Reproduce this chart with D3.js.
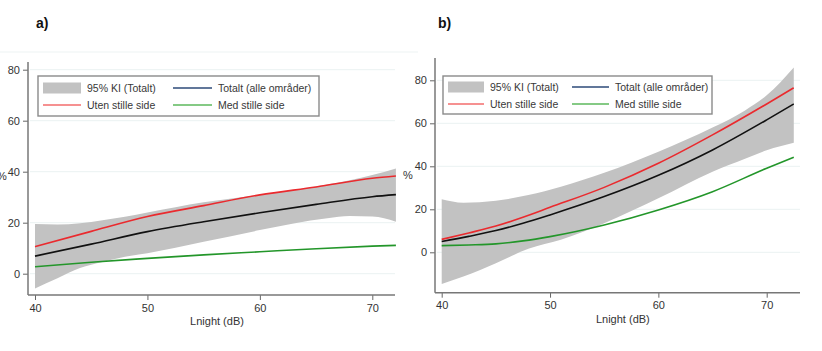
<!DOCTYPE html>
<html>
<head>
<meta charset="utf-8">
<script src="https://cdn.jsdelivr.net/npm/d3@7"></script>
<style>
  body { margin: 0; background: #fff; }
  svg { display: block; font-family: "Liberation Sans", Arial, sans-serif; }
</style>
</head>
<body>
<div id="chart"></div>
<script>
// ---- data ----
const xTicks = [40, 50, 60, 70];
const yTicks = [0, 20, 40, 60, 80];
const legendLabels = ["95% KI (Totalt)", "Totalt (alle områder)", "Uten stille side", "Med stille side"];

// panel a)
const aX      = [40, 45, 50, 55, 60, 65, 70, 72.1];
const aUten   = [10.6, 16.6, 22.4, 26.7, 30.9, 34.0, 37.4, 38.3];
const aTotalt = [6.9, 11.6, 16.5, 20.4, 23.9, 27.2, 30.2, 31.0];
const aMed    = [2.7, 4.5, 6.0, 7.4, 8.6, 9.8, 10.8, 11.1];
const aBandX  = [40, 42, 44, 46, 48, 50, 55, 60, 63, 66, 68, 70, 72.1];
const aUpper  = [19.5, 19.3, 19.8, 21.0, 22.3, 24.0, 28.0, 31.0, 32.8, 35.0, 36.6, 38.7, 41.3];
const aLower  = [-5.8, -1.8, 2.2, 4.6, 6.6, 8.0, 12.5, 17.1, 19.7, 21.7, 22.6, 22.4, 20.4];

// panel b)
const bX      = [40, 42.5, 45, 47.5, 50, 55, 60, 65, 70, 72.5];
const bUten   = [6.0, 9.0, 12.2, 16.3, 20.9, 30.2, 41.4, 54.6, 69.0, 76.5];
const bTotalt = [5.0, 7.4, 10.1, 13.5, 17.4, 25.9, 35.8, 47.6, 61.6, 69.0];
const bMed    = [3.1, 3.4, 3.9, 5.3, 7.3, 12.7, 19.7, 28.2, 39.1, 44.2];
const bBandX  = [40, 42, 45, 48, 51, 55, 60, 65, 68, 70, 72.5];
const bUpper  = [24.7, 23.1, 24.0, 26.6, 30.5, 37.0, 46.8, 58.0, 66.0, 73.0, 86.0];
const bLower  = [-14.7, -11.3, -5.1, 1.6, 5.8, 13.5, 25.1, 37.5, 43.5, 47.5, 51.0];

const svg = d3.select("#chart").append("svg")
    .attr("width", 822)
    .attr("height", 351);

// faint frame line of panel a
svg.append("line")
    .attr("x1", 0).attr("x2", 418).attr("y1", 52).attr("y2", 52)
    .attr("stroke", "#edf3f3").attr("stroke-width", 1);

function drawPanel(cfg) {
    const x = d3.scaleLinear().domain([40, 70]).range(cfg.xRange);
    const y = d3.scaleLinear().domain([0, 60]).range(cfg.yRange);
    const g = svg.append("g");

    // gridlines
    g.selectAll(".grid")
        .data(yTicks)
        .join("line")
        .attr("class", "grid")
        .attr("x1", cfg.box[0] + 2).attr("x2", cfg.box[1])
        .attr("y1", d => y(d)).attr("y2", d => y(d))
        .attr("stroke", "#eaf2f2").attr("stroke-width", 1);

    // confidence band
    const band = cfg.bandX.map((v, i) => ({x: v, lo: cfg.lower[i], hi: cfg.upper[i]}));
    g.append("path")
        .datum(band)
        .attr("d", d3.area()
            .x(d => x(d.x)).y0(d => y(d.lo)).y1(d => y(d.hi))
            .curve(d3.curveMonotoneX))
        .attr("fill", "#c2c2c2");

    // lines
    const line = d3.line().x(d => x(d.x)).y(d => y(d.y)).curve(d3.curveMonotoneX);
    [[cfg.med, "#23962a"], [cfg.totalt, "#111"], [cfg.uten, "#ea2a2e"]].forEach(([vals, col]) => {
        g.append("path")
            .datum(cfg.xs.map((v, i) => ({x: v, y: vals[i]})))
            .attr("d", line)
            .attr("fill", "none")
            .attr("stroke", col)
            .attr("stroke-width", 1.6);
    });

    // axes
    const yAxis = d3.axisLeft(y).tickValues(yTicks).tickSize(5).tickPadding(3).tickFormat(d3.format("d"));
    const xAxis = d3.axisBottom(x).tickValues(xTicks).tickSize(5).tickPadding(4).tickFormat(d3.format("d"));

    const yG = g.append("g").attr("transform", `translate(${cfg.box[0]},0)`).call(yAxis);
    yG.select(".domain").remove();
    const xG = g.append("g").attr("transform", `translate(0,${cfg.box[3]})`).call(xAxis);
    xG.select(".domain").remove();

    [yG, xG].forEach(a => {
        a.selectAll(".tick line").attr("stroke", "#666").attr("stroke-width", 1);
        a.selectAll(".tick text").attr("fill", "#333").style("font-size", "11px");
    });

    // axis lines
    g.append("line")
        .attr("x1", cfg.box[0]).attr("x2", cfg.box[0])
        .attr("y1", cfg.box[2]).attr("y2", cfg.box[3])
        .attr("stroke", "#777").attr("stroke-width", 1.5);
    g.append("line")
        .attr("x1", cfg.box[0]).attr("x2", cfg.box[1])
        .attr("y1", cfg.box[3]).attr("y2", cfg.box[3])
        .attr("stroke", "#777").attr("stroke-width", 1.5);

    // axis titles
    g.append("text")
        .attr("x", (cfg.xRange[0] + cfg.box[1]) / 2 + 2)
        .attr("y", cfg.box[3] + 30)
        .attr("text-anchor", "middle")
        .attr("fill", "#333")
        .style("font-size", "11px")
        .text("Lnight (dB)");
    g.append("text")
        .attr("x", cfg.pctX)
        .attr("y", cfg.pctY)
        .attr("fill", "#333")
        .style("font-size", "11px")
        .text("%");

    // panel title
    svg.append("text")
        .attr("x", cfg.titleX).attr("y", 28)
        .attr("fill", "#111")
        .style("font-size", "14px")
        .style("font-weight", "bold")
        .text(cfg.title);

    // legend
    const L = cfg.legend;
    const lg = svg.append("g");
    lg.append("rect")
        .attr("x", L.x0).attr("y", L.y0)
        .attr("width", L.x1 - L.x0).attr("height", L.y1 - L.y0)
        .attr("fill", "#fff").attr("stroke", "#8a8a8a").attr("stroke-width", 1.4);
    const items = [
        {label: legendLabels[0], type: "rect", col: "#c2c2c2", cx: L.c1, row: 0},
        {label: legendLabels[1], type: "line", col: "#2d4a78", cx: L.c2, row: 0},
        {label: legendLabels[2], type: "line", col: "#f36c6c", cx: L.c1, row: 1},
        {label: legendLabels[3], type: "line", col: "#5db85d", cx: L.c2, row: 1}
    ];
    items.forEach(it => {
        const yy = L.rows[it.row];
        if (it.type === "rect") {
            lg.append("rect").attr("x", it.cx[0]).attr("y", yy - 5.5)
                .attr("width", it.cx[1] - it.cx[0]).attr("height", 11).attr("fill", it.col);
        } else {
            lg.append("line").attr("x1", it.cx[0]).attr("x2", it.cx[1])
                .attr("y1", yy).attr("y2", yy)
                .attr("stroke", it.col).attr("stroke-width", 1.6);
        }
        lg.append("text")
            .attr("x", it.cx[1] + 6).attr("y", yy + 3.7)
            .attr("fill", "#383838")
            .style("font-size", "10.5px")
            .text(it.label);
    });
}

drawPanel({
    title: "a)", titleX: 36,
    xRange: [35, 372.3], yRange: [273.7, 120.7],
    box: [28, 395, 62, 295],
    xs: aX, uten: aUten, totalt: aTotalt, med: aMed,
    bandX: aBandX, upper: aUpper, lower: aLower,
    pctX: -3, pctY: 180,
    legend: {x0: 38, x1: 319, y0: 76, y1: 116, rows: [88, 105], c1: [43, 81], c2: [173, 212]}
});

drawPanel({
    title: "b)", titleX: 438,
    xRange: [441.7, 766.7], yRange: [252.3, 123.3],
    box: [435, 800, 58, 292.7],
    xs: bX, uten: bUten, totalt: bTotalt, med: bMed,
    bandX: bBandX, upper: bUpper, lower: bLower,
    pctX: 403, pctY: 179,
    legend: {x0: 443, x1: 712, y0: 76, y1: 114, rows: [87, 104], c1: [448, 484], c2: [572, 609]}
});
</script>
</body>
</html>
